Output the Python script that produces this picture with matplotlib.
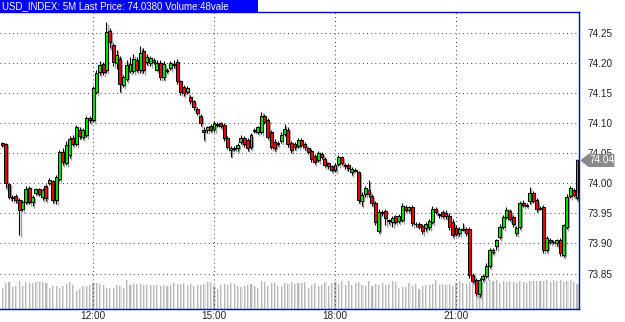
import numpy as np
import pandas as pd
import matplotlib
matplotlib.use("Agg")
import matplotlib.pyplot as plt
from matplotlib.patches import Polygon, Rectangle

plt.rcParams["font.family"] = ["Liberation Sans", "DejaVu Sans"]

# 5 minute bars, 09:45 .. 24:00
times = pd.date_range("2013-01-02 09:45", periods=172, freq="5min")

opens = [74.067, 74.066, 73.999, 73.978, 73.979, 73.973, 73.958, 73.969, 73.993, 73.969,
         73.984, 73.990, 73.977, 73.996, 74.000, 74.003, 73.972, 74.007, 74.052, 74.034,
         74.047, 74.075, 74.066, 74.089, 74.077, 74.080, 74.108, 74.105, 74.152, 74.185,
         74.198, 74.188, 74.253, 74.230, 74.200, 74.206, 74.163, 74.174, 74.187, 74.187,
         74.204, 74.188, 74.219, 74.202, 74.200, 74.205, 74.189, 74.200, 74.177, 74.189,
         74.191, 74.198, 74.202, 74.170, 74.160, 74.152, 74.144, 74.136, 74.123, 74.112,
         74.089, 74.089, 74.095, 74.090, 74.098, 74.100, 74.097, 74.075, 74.055, 74.059,
         74.058, 74.069, 74.075, 74.072, 74.061, 74.089, 74.086, 74.086, 74.111, 74.105,
         74.085, 74.069, 74.067, 74.071, 74.082, 74.089, 74.067, 74.065, 74.062, 74.072,
         74.065, 74.058, 74.054, 74.045, 74.039, 74.049, 74.040, 74.033, 74.028, 74.022,
         74.032, 74.043, 74.030, 74.030, 74.018, 74.022, 74.018, 73.971, 73.982, 73.989,
         73.979, 73.968, 73.921, 73.953, 73.954, 73.938, 73.935, 73.945, 73.938, 73.939,
         73.961, 73.956, 73.961, 73.932, 73.932, 73.929, 73.925, 73.927, 73.936, 73.958,
         73.947, 73.953, 73.951, 73.946, 73.936, 73.926, 73.917, 73.924, 73.924, 73.924,
         73.848, 73.839, 73.816, 73.841, 73.846, 73.863, 73.886, 73.895, 73.911, 73.928,
         73.944, 73.954, 73.944, 73.917, 73.928, 73.968, 73.964, 73.970, 73.984, 73.972,
         73.959, 73.961, 73.890, 73.906, 73.903, 73.900, 73.906, 73.881, 73.928, 73.979,
         73.989, 73.976]

highs = [74.069, 74.067, 74.000, 73.981, 73.982, 73.975, 73.972, 73.995, 73.996, 73.980,
         73.993, 73.992, 73.992, 73.999, 74.008, 74.006, 74.014, 74.056, 74.058, 74.070,
         74.078, 74.080, 74.097, 74.094, 74.092, 74.111, 74.112, 74.162, 74.188, 74.203,
         74.202, 74.268, 74.258, 74.233, 74.222, 74.212, 74.180, 74.205, 74.210, 74.215,
         74.210, 74.228, 74.225, 74.215, 74.212, 74.208, 74.205, 74.204, 74.203, 74.192,
         74.203, 74.205, 74.206, 74.172, 74.163, 74.161, 74.147, 74.139, 74.126, 74.115,
         74.093, 74.096, 74.098, 74.103, 74.101, 74.102, 74.100, 74.078, 74.062, 74.062,
         74.067, 74.080, 74.078, 74.075, 74.084, 74.092, 74.096, 74.119, 74.115, 74.108,
         74.089, 74.073, 74.070, 74.085, 74.098, 74.093, 74.070, 74.068, 74.075, 74.075,
         74.068, 74.061, 74.057, 74.048, 74.054, 74.052, 74.043, 74.036, 74.031, 74.034,
         74.047, 74.046, 74.034, 74.034, 74.027, 74.025, 74.021, 73.985, 73.995, 74.005,
         73.982, 73.971, 73.957, 73.956, 73.957, 73.941, 73.945, 73.948, 73.949, 73.967,
         73.964, 73.963, 73.964, 73.935, 73.935, 73.932, 73.935, 73.941, 73.962, 73.961,
         73.951, 73.955, 73.955, 73.950, 73.940, 73.930, 73.928, 73.934, 73.927, 73.927,
         73.851, 73.842, 73.843, 73.850, 73.867, 73.893, 73.893, 73.908, 73.932, 73.948,
         73.960, 73.958, 73.947, 73.929, 73.971, 73.972, 73.967, 73.994, 73.988, 73.976,
         73.962, 73.964, 73.912, 73.909, 73.906, 73.908, 73.909, 73.933, 73.982, 73.996,
         73.992, 74.040]

lows = [74.061, 73.992, 73.974, 73.970, 73.968, 73.914, 73.954, 73.966, 73.965, 73.962,
        73.981, 73.979, 73.972, 73.970, 73.997, 73.968, 73.966, 74.003, 74.030, 74.030,
        74.042, 74.062, 74.062, 74.074, 74.073, 74.077, 74.100, 74.102, 74.148, 74.180,
        74.180, 74.184, 74.225, 74.195, 74.190, 74.152, 74.160, 74.170, 74.183, 74.183,
        74.185, 74.184, 74.183, 74.197, 74.195, 74.198, 74.186, 74.172, 74.172, 74.184,
        74.188, 74.192, 74.165, 74.147, 74.145, 74.148, 74.131, 74.122, 74.113, 74.095,
        74.072, 74.084, 74.086, 74.086, 74.094, 74.092, 74.070, 74.057, 74.044, 74.054,
        74.053, 74.065, 74.061, 74.054, 74.057, 74.084, 74.082, 74.082, 74.098, 74.073,
        74.057, 74.054, 74.062, 74.067, 74.079, 74.061, 74.051, 74.056, 74.058, 74.060,
        74.056, 74.049, 74.036, 74.032, 74.035, 74.040, 74.027, 74.024, 74.018, 74.018,
        74.028, 74.030, 74.024, 74.021, 74.014, 74.018, 73.968, 73.962, 73.978, 73.978,
        73.963, 73.930, 73.917, 73.945, 73.930, 73.932, 73.928, 73.932, 73.934, 73.935,
        73.952, 73.952, 73.929, 73.928, 73.924, 73.916, 73.921, 73.923, 73.932, 73.949,
        73.943, 73.942, 73.941, 73.923, 73.910, 73.912, 73.913, 73.920, 73.913, 73.843,
        73.834, 73.813, 73.811, 73.837, 73.842, 73.859, 73.882, 73.890, 73.907, 73.924,
        73.940, 73.937, 73.928, 73.913, 73.924, 73.960, 73.960, 73.966, 73.967, 73.952,
        73.955, 73.885, 73.886, 73.899, 73.899, 73.896, 73.880, 73.877, 73.924, 73.975,
        73.977, 73.972]

closes = [74.063, 74.000, 73.978, 73.976, 73.972, 73.956, 73.969, 73.990, 73.969, 73.977,
          73.990, 73.982, 73.989, 73.975, 74.006, 73.972, 74.010, 74.052, 74.036, 74.064,
          74.073, 74.066, 74.093, 74.079, 74.089, 74.108, 74.105, 74.158, 74.183, 74.197,
          74.185, 74.252, 74.235, 74.202, 74.213, 74.165, 74.176, 74.197, 74.198, 74.206,
          74.189, 74.216, 74.188, 74.210, 74.208, 74.202, 74.200, 74.177, 74.199, 74.187,
          74.200, 74.196, 74.170, 74.152, 74.150, 74.158, 74.136, 74.127, 74.117, 74.100,
          74.086, 74.093, 74.089, 74.100, 74.097, 74.095, 74.075, 74.061, 74.059, 74.057,
          74.064, 74.076, 74.065, 74.059, 74.080, 74.087, 74.093, 74.111, 74.102, 74.077,
          74.061, 74.058, 74.066, 74.080, 74.090, 74.065, 74.055, 74.060, 74.072, 74.064,
          74.060, 74.052, 74.040, 74.036, 74.050, 74.043, 74.030, 74.028, 74.022, 74.030,
          74.043, 74.034, 74.028, 74.025, 74.023, 74.021, 73.973, 73.981, 73.992, 73.982,
          73.967, 73.935, 73.953, 73.950, 73.942, 73.937, 73.942, 73.936, 73.945, 73.962,
          73.956, 73.960, 73.934, 73.932, 73.928, 73.921, 73.932, 73.938, 73.958, 73.953,
          73.947, 73.946, 73.945, 73.928, 73.914, 73.916, 73.924, 73.923, 73.917, 73.848,
          73.838, 73.817, 73.839, 73.846, 73.863, 73.889, 73.889, 73.905, 73.928, 73.944,
          73.956, 73.941, 73.932, 73.925, 73.967, 73.964, 73.963, 73.984, 73.971, 73.957,
          73.958, 73.890, 73.909, 73.903, 73.902, 73.905, 73.885, 73.930, 73.978, 73.992,
          73.981, 74.038]

volumes = [61, 77, 79, 64, 69, 84, 69, 81, 77, 77, 81, 79, 81, 77, 61, 69, 67, 61, 67, 74,
           79, 71, 54, 59, 67, 69, 71, 77, 77, 74, 71, 61, 63, 61, 71, 69, 61, 87, 71, 74,
           74, 74, 71, 71, 71, 71, 71, 69, 71, 69, 71, 77, 74, 74, 77, 71, 74,
           69, 71, 71, 74, 79, 77, 67, 59, 71, 74, 71, 77, 74, 69, 64, 67, 71, 74, 69, 61,
           84, 81, 67, 77, 77, 69, 67, 77, 74, 79, 74, 77, 77, 79, 61, 71, 77, 67, 71, 79,
           69, 77, 79, 74, 84, 71, 84, 71, 77, 81, 71, 69, 84, 69, 74, 71, 77, 71,
           74, 84, 81, 61, 64, 64, 77, 69, 74, 59, 67, 71, 71, 74, 87, 71, 74, 71, 74, 69,
           77, 84, 77, 74, 79, 79, 71, 77, 69, 84, 87, 84, 87, 77, 84, 81, 84, 79, 77, 84,
           81, 77, 84, 84, 84, 84, 84, 87, 81, 87, 84, 87, 79, 84, 87, 81, 74]

title = "USD_INDEX: 5M Last Price: 74.0380 Volume:48vale"
last_price = 74.038
price_ticks = [73.85, 73.90, 73.95, 74.00, 74.05, 74.10, 74.15, 74.20, 74.25]
time_ticks = ["12:00", "15:00", "18:00", "21:00"]

o = np.array(opens); h = np.array(highs); l = np.array(lows); c = np.array(closes)
x = np.arange(len(o))
labels = times.strftime("%H:%M")
tick_pos = [int(np.where(labels == t)[0][0]) for t in time_ticks]

W, H = 625, 322
fig = plt.figure(figsize=(W / 100, H / 100), dpi=100)
fig.patch.set_facecolor("white")
rect = [0, (H - 308.5) / H, 579 / W, (308.5 - 11.5) / H]

# volume in the back
axv = fig.add_axes(rect)
axv.bar(x + 0.32, volumes, width=0.32, color="#e2e2e2", linewidth=0)
axv.bar(x, volumes, width=0.32, color="#b8b8b8", linewidth=0)
axv.set_ylim(0, 297 * 3)
axv.set_xlim(-0.68, 171.6)
axv.axis("off")

ax = fig.add_axes(rect)
ax.patch.set_alpha(0)
ax.set_xlim(-0.68, 171.6)
ax.set_ylim(73.792, 74.2854)

dy = 0.0028
bw = 0.88
body_lo = np.minimum(o, c)
body_h = np.maximum(np.abs(c - o), 0.0012)
up = c > o + 0.0015
down = c < o - 0.0015
cols = np.where(up, "#00e000", np.where(down, "#ee0000", "#000000"))

# drop shadow
ax.vlines(x + 0.45, l - dy, h - dy, color="#9c9c9c", lw=1.0, zorder=2)
ax.bar(x + 0.45, body_h, bottom=body_lo - dy, width=bw, color="#9c9c9c",
       linewidth=0, zorder=2)
# candles
ax.vlines(x, l, h, color="black", lw=0.8, zorder=3)
ax.bar(x, body_h, bottom=body_lo, width=bw, color=cols, edgecolor="black",
       linewidth=0.7, zorder=4)

ax.set_yticks(price_ticks)
ax.set_yticklabels(["%.2f" % p for p in price_ticks])
ax.yaxis.tick_right()
ax.set_xticks(tick_pos)
ax.set_xticklabels(time_ticks)
ax.tick_params(length=0, labelsize=7.2, colors="#222222")
ax.tick_params(axis="y", pad=6)
ax.tick_params(axis="x", pad=2)
ax.grid(True, color="black", linestyle=(0, (1, 4)), linewidth=0.6)
ax.set_axisbelow(True)

for s in ["top", "right", "bottom"]:
    ax.spines[s].set_color("#0000c8")
    ax.spines[s].set_linewidth(1.0)
ax.spines["left"].set_visible(False)

# last price marker
tr = ax.get_yaxis_transform()
hh = 0.0098
marker = Polygon([(1.004, last_price), (1.017, last_price + hh), (1.060, last_price + hh),
                  (1.060, last_price - hh), (1.017, last_price - hh)],
                 closed=True, transform=tr, clip_on=False, facecolor="#8a8a8a",
                 edgecolor="#8a8a8a", zorder=6)
ax.add_patch(marker)
ax.text(1.039, last_price, "%.2f" % last_price, transform=tr, ha="center", va="center",
        fontsize=7.2, color="white", zorder=7, clip_on=False)

# title bar
fig.patches.append(Rectangle((0, 1 - 12 / H), 258 / W, 12 / H, transform=fig.transFigure,
                             facecolor="#0000ff", edgecolor="none", zorder=10))
fig.text(2 / W, 1 - 6 / H, title, color="white", fontsize=7.0, va="center", ha="left",
         zorder=11)

fig.savefig("out.png", dpi=100)
